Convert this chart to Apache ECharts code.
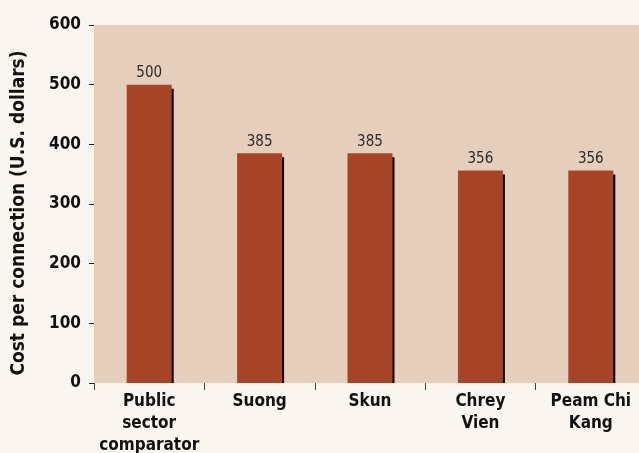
<!DOCTYPE html>
<html><head><meta charset="utf-8">
<script src="https://cdn.jsdelivr.net/npm/echarts@6/dist/echarts.min.js"></script>
<style>html,body{margin:0;padding:0;background:#faf6ef;}#c{width:639px;height:453px;}</style>
</head><body><div id="c"></div>
<script>
const categories = ["Public\nsector\ncomparator", "Suong", "Skun", "Chrey\nVien", "Peam Chi\nKang"];
const costValues = [500, 385, 385, 356, 356];
const yTicks = [0, 100, 200, 300, 400, 500, 600];
const yAxisTitle = "Cost per connection (U.S. dollars)";

const FONT = '"Liberation Sans Narrow", "DejaVu Sans Condensed", "Arial Narrow", sans-serif';
const BAR_W = 45;
const chart = echarts.init(document.getElementById('c'));
chart.setOption({
  backgroundColor: '#faf6ef',
  animation: false,
  grid: { left: 94, top: 25, bottom: 70, right: -7, show: true, backgroundColor: '#e6cebd', borderWidth: 0, outerBoundsMode: 'none', containLabel: false },
  graphic: [{
    type: 'text', x: 19, y: 213, rotation: Math.PI / 2,
    style: { text: yAxisTitle, font: 'bold 19px ' + FONT, fill: '#111', align: 'center', verticalAlign: 'middle' }
  }],
  xAxis: {
    type: 'category', data: categories,
    axisLine: { show: false },
    axisTick: { show: true, length: 7, lineStyle: { color: '#444', width: 1 } },
    axisLabel: { interval: 0, fontFamily: FONT, fontWeight: 'bold', fontSize: 17, color: '#111', lineHeight: 22, margin: 8, hideOverlap: false }
  },
  yAxis: {
    type: 'value', min: yTicks[0], max: yTicks[yTicks.length - 1], interval: 100,
    axisLine: { show: false },
    axisTick: { show: true, length: 5, lineStyle: { color: '#222' } },
    splitLine: { show: false },
    axisLabel: { fontFamily: FONT, fontWeight: 'bold', fontSize: 17, color: '#111', margin: 13 }
  },
  series: [{
    type: 'custom', z: 1, silent: true,
    data: costValues.map((v, i) => [i, v]),
    encode: { x: 0, y: 1 },
    renderItem: function (params, api) {
      const top = api.coord([api.value(0), api.value(1)]);
      const base = api.coord([api.value(0), 0]);
      return { type: 'rect', shape: { x: top[0] - BAR_W / 2 + 2, y: top[1] + 4, width: BAR_W, height: base[1] - top[1] - 4 }, style: { fill: '#000' } };
    }
  }, {
    type: 'bar', z: 2, data: costValues, barWidth: BAR_W,
    itemStyle: { color: '#a64425' },
    label: { show: true, position: 'top', distance: 4, fontFamily: FONT, fontSize: 15, color: '#2a2a2a' }
  }]
});
</script></body></html>
